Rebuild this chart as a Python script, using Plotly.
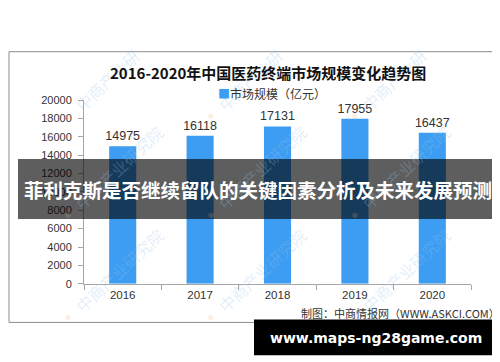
import plotly.graph_objects as go

years = ["2016", "2017", "2018", "2019", "2020"]
market_size = [14975, 16118, 17131, 17955, 16437]
y_ticks = [0, 2000, 4000, 6000, 8000, 10000, 12000, 14000, 16000, 18000, 20000]

title_text = "2016-2020年中国医药终端市场规模变化趋势图"
series_name = "市场规模（亿元）"
source_text = "制图：中商情报网（WWW.ASKCI.COM）"
banner_text = "菲利克斯是否继续留队的关键因素分析及未来发展预测"
site_text = "www.maps-ng28game.com"
watermark_text = "中商产业研究院"

W, H = 500, 362
def px(x):
    return x / W
def py(y):
    return 1 - y / H

CJK = "Noto Sans CJK SC"
LAT = "Liberation Sans, Arial, sans-serif"
BAR_COLOR = "#3D9DF2"

fig = go.Figure()
fig.add_trace(go.Bar(
    x=years, y=market_size, name=series_name,
    marker=dict(color=BAR_COLOR, line=dict(width=0)),
    text=[str(v) for v in market_size], textposition="outside",
    constraintext="none",
    textfont=dict(family=LAT, size=12.5, color="#333333"),
    cliponaxis=False, width=0.35, showlegend=False,
))

fig.update_layout(
    width=W, height=H,
    margin=dict(l=0, r=0, t=0, b=0),
    paper_bgcolor="white", plot_bgcolor="rgba(0,0,0,0)",
    showlegend=False,
    xaxis=dict(domain=[px(76), px(463)], range=[-0.5, 4.5], showgrid=False,
               showline=True, linecolor="#a6a6a6", linewidth=1,
               ticks="outside", tickson="boundaries", ticklen=5, tickcolor="#a6a6a6",
               tickfont=dict(family=LAT, size=11.5, color="#333333")),
    yaxis=dict(domain=[py(279), py(89)], range=[0, 20000], tickvals=y_ticks,
               tickformat="d",
               showgrid=False, zeroline=False,
               showline=True, linecolor="#a6a6a6", linewidth=1,
               ticks="outside", ticklen=5, tickcolor="#a6a6a6", ticklabelstandoff=4,
               tickfont=dict(family=LAT, size=11, color="#333333")),
    bargap=0.65,
)

shapes = []
shapes.append(dict(type="rect", xref="paper", yref="paper",
                   x0=px(1), x1=px(499), y0=py(319), y1=py(39),
                   line=dict(color="#8c8c8c", width=1), fillcolor="rgba(0,0,0,0)", layer="below"))
shapes.append(dict(type="rect", xref="paper", yref="paper",
                   x0=px(10), x1=px(490), y0=py(212), y1=py(150),
                   line=dict(width=0), fillcolor="rgba(0,0,0,0.63)", layer="above"))
shapes.append(dict(type="rect", xref="paper", yref="paper",
                   x0=px(246), x1=px(491), y0=py(353), y1=py(316),
                   line=dict(width=0), fillcolor="black", layer="above"))

annotations = []
for (lx, ly, txt) in [(60, 207, watermark_text), (203, 207, watermark_text), (347, 207, watermark_text),
                      (60, 313, watermark_text), (203, 313, watermark_text),
                      (347, 313, watermark_text), (203, 105, "中商产业研"), (60, 105, "中商产业研"),
                      (347, 105, "中商产业研")]:
    n = len(txt)
    L = n * 17
    cx = lx + 8 + L * 0.73 / 2
    cy = ly - 8 - L * 0.68 / 2
    annotations.append(dict(xref="paper", yref="paper", x=px(cx), y=py(cy), text=txt,
                            xanchor="center", yanchor="middle",
                            showarrow=False, textangle=-43,
                            font=dict(family=CJK, size=16, color="rgba(150,195,235,0.28)")))
    annotations.append(dict(xref="paper", yref="paper", x=px(lx), y=py(ly), text="●",
                            xanchor="center", yanchor="middle",
                            showarrow=False,
                            font=dict(family=LAT, size=13, color="rgba(240,170,120,0.2)")))

annotations += [
    dict(xref="paper", yref="paper", x=px(260), y=py(60), text="<b>" + title_text + "</b>",
         xanchor="center", yanchor="middle",
         showarrow=False, font=dict(family=CJK, size=15, color="#111111")),
    dict(xref="paper", yref="paper", x=px(264), y=py(82),
         text="<span style='color:" + BAR_COLOR + "'>■</span>" + series_name,
         xanchor="center", yanchor="middle",
         showarrow=False, font=dict(family=CJK, size=12, color="#333333")),
    dict(xref="paper", yref="paper", x=px(494), y=py(309), xanchor="right", yanchor="middle",
         text=source_text,
         showarrow=False, font=dict(family=CJK, size=11, color="#333333")),
    dict(xref="paper", yref="paper", x=px(250), y=py(181), text="<b>" + banner_text + "</b>",
         xanchor="center", yanchor="middle",
         showarrow=False, font=dict(family=CJK, size=19.5, color="white")),
    dict(xref="paper", yref="paper", x=px(368), y=py(335), text="<b>" + site_text + "</b>",
         xanchor="center", yanchor="middle",
         showarrow=False, font=dict(family="DejaVu Sans, sans-serif", size=14, color="white")),
]

fig.update_layout(shapes=shapes, annotations=annotations)
fig.write_html("out.html")
